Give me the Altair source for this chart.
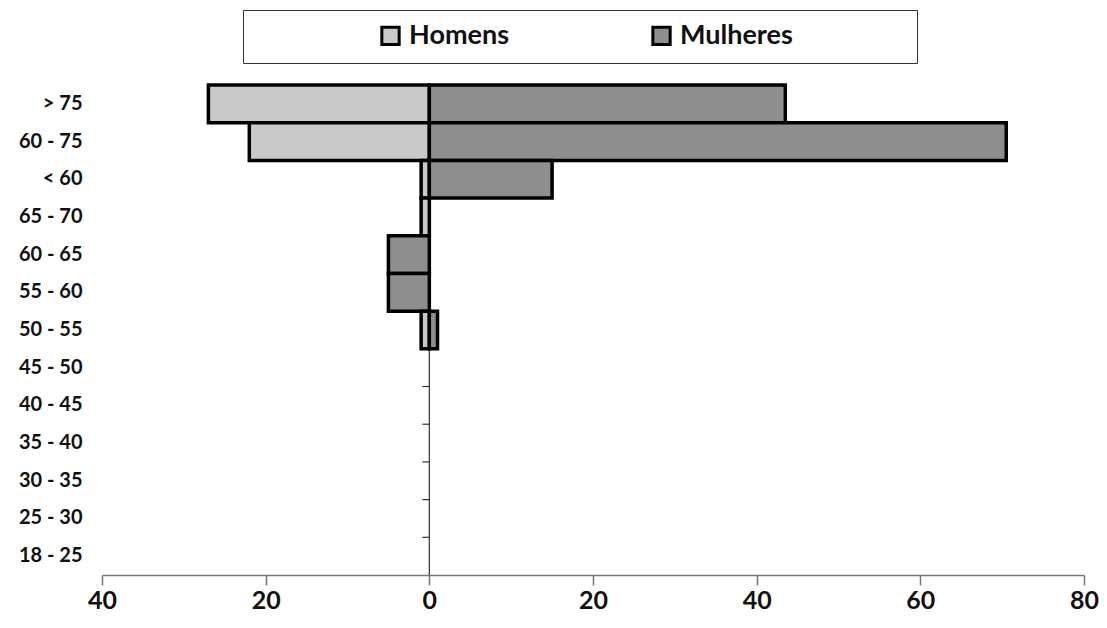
import altair as alt
import pandas as pd

categorias = ["> 75", "60 - 75", "< 60", "65 - 70", "60 - 65", "55 - 60", "50 - 55",
              "45 - 50", "40 - 45", "35 - 40", "30 - 35", "25 - 30", "18 - 25"]
homens = [-27, -22, -1, -1, 0, 0, -1, 0, 0, 0, 0, 0, 0]
mulheres = [43.5, 70.5, 15, 0, -5, -5, 1, 0, 0, 0, 0, 0, 0]
series = ["Homens", "Mulheres"]
cores = ["#c9c9c9", "#8e8e8e"]
x_ticks = [-40, -20, 0, 20, 40, 60, 80]

rows = []
for i, c in enumerate(categorias):
    rows.append({"faixa": c, "serie": "Homens", "valor": homens[i], "ordem": 0})
    rows.append({"faixa": c, "serie": "Mulheres", "valor": mulheres[i], "ordem": 1})
df = pd.DataFrame(rows)
df = df[df["valor"] != 0]

cat_df = pd.DataFrame({"faixa": categorias})

FONT = "Lato"
# trailing non-breaking spaces, closed with a zero-width space so they are not trimmed
PAD = "\\u00a0" * 17 + "\\u200b"

W, H = 982, 490

yscale = alt.Scale(domain=categorias, paddingInner=0, paddingOuter=0)
xscale = alt.Scale(domain=[-40, 80], nice=False)

bars = alt.Chart(df).mark_bar(stroke="black", strokeWidth=3.5).encode(
    y=alt.Y("faixa:N", scale=yscale, sort=categorias,
            axis=alt.Axis(title=None, domain=False, ticks=False, labelFont=FONT,
                          labelFontSize=20, labelFontWeight="bold", labelColor="#111",
                          labelPadding=20)),
    x=alt.X("valor:Q", scale=xscale,
            axis=alt.Axis(title=None, values=x_ticks, labelExpr="abs(datum.value)",
                          grid=False, domainColor="#777", domainWidth=1.5,
                          tickColor="#777", tickWidth=1.5, tickSize=10,
                          labelFlush=False,
                          labelFont=FONT, labelFontSize=25, labelFontWeight="bold",
                          labelColor="#111", labelPadding=3)),
    color=alt.Color("serie:N", scale=alt.Scale(domain=series, range=cores),
                    legend=alt.Legend(title=None, orient="none", direction="horizontal",
                                      legendX=141, legendY=-75,
                                      fillColor="white", strokeColor="#333",
                                      padding=12, symbolType="square", symbolSize=300,
                                      symbolStrokeColor="black", symbolStrokeWidth=3,
                                      symbolOffset=122, columnPadding=16,
                                      labelFont=FONT, labelFontSize=27,
                                      labelFontWeight="bold", labelColor="#111",
                                      labelOffset=5, labelLimit=600,
                                      labelExpr="datum.value == 'Mulheres' ? datum.value + '" + PAD + "' : datum.value")),
    order=alt.Order("ordem:Q"),
)

zero_line = alt.Chart(cat_df.head(1)).mark_rule(color="#333", strokeWidth=1.2).encode(
    x=alt.datum(0, scale=xscale),
    y=alt.value(0),
    y2=alt.value(H),
)

row_ticks = alt.Chart(cat_df.iloc[1:]).mark_rule(color="#333", strokeWidth=1.2).encode(
    x=alt.datum(-0.85),
    x2=alt.datum(0),
    y=alt.Y("faixa:N", scale=yscale, sort=categorias, bandPosition=0),
)

chart = alt.layer(zero_line, row_ticks, bars).properties(
    width=W, height=H,
    autosize=alt.AutoSizeParams(type="none"),
    padding={"left": 94, "top": 77, "right": 15, "bottom": 40},
    background="white",
).configure_view(stroke="transparent", strokeWidth=0)

chart.save("out.html", embed_options={"renderer": "svg", "actions": False})
